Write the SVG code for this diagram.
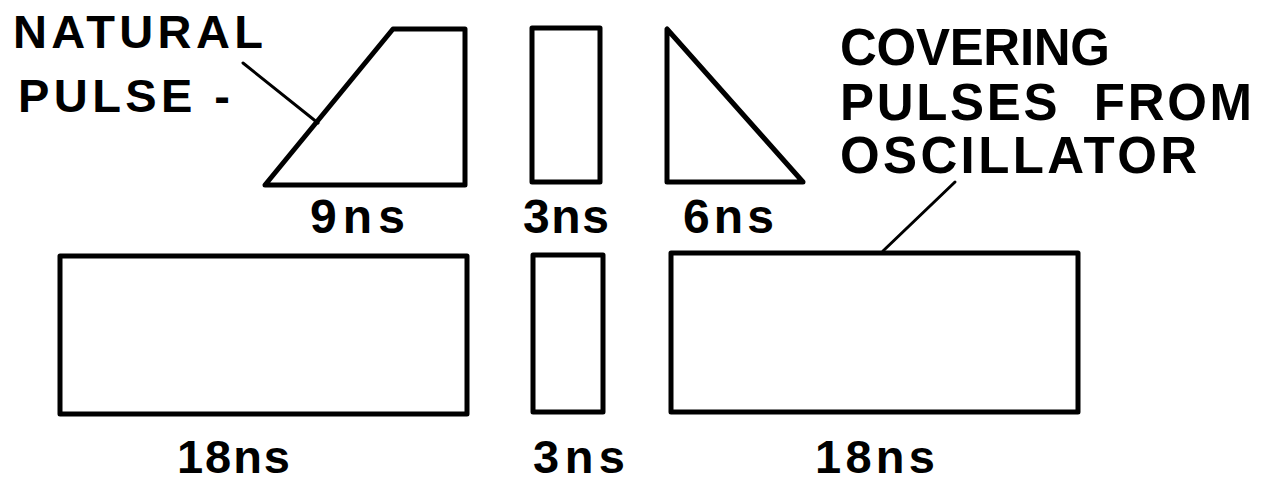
<svg xmlns="http://www.w3.org/2000/svg" width="1268" height="483" viewBox="0 0 1268 483">
<style>
.shape{fill:none;stroke:#000;stroke-width:5;stroke-linejoin:round;stroke-linecap:round}
.lead{fill:none;stroke:#000;stroke-width:3;stroke-linecap:round}
.t{font-family:"Liberation Sans",Arial,sans-serif;font-weight:bold;fill:#000}
</style>
<rect width="1268" height="483" fill="#fff"/>
<g id="natural-pulse-label">
<text class="t" x="13" y="48" font-size="47" textLength="250" lengthAdjust="spacing">NATURAL</text>
<text class="t" x="18" y="112" font-size="47" textLength="212" lengthAdjust="spacing">PULSE -</text>
</g>
<g id="covering-label">
<text class="t" x="840" y="65" font-size="51" textLength="270" lengthAdjust="spacing">COVERING</text>
<text class="t" x="840" y="120" font-size="51" textLength="412" lengthAdjust="spacing" xml:space="preserve">PULSES  FROM</text>
<text class="t" x="840" y="173" font-size="51" textLength="357" lengthAdjust="spacing">OSCILLATOR</text>
</g>
<g id="pulse-9ns">
<polygon class="shape" points="265,185 393,29 465,29 465,185"/>
<text class="t" x="310" y="233" font-size="48" textLength="95" lengthAdjust="spacing">9ns</text>
</g>
<g id="pulse-3ns-top">
<rect class="shape" x="532" y="28" width="68" height="154"/>
<text class="t" x="523" y="233" font-size="48" textLength="86" lengthAdjust="spacing">3ns</text>
</g>
<g id="pulse-6ns">
<polygon class="shape" points="667,29 667,182 803,182"/>
<text class="t" x="683" y="233" font-size="48" textLength="91" lengthAdjust="spacing">6ns</text>
</g>
<g id="pulse-18ns-left">
<rect class="shape" x="60" y="256" width="407" height="158"/>
<text class="t" x="177" y="473" font-size="47" textLength="113" lengthAdjust="spacing">18ns</text>
</g>
<g id="pulse-3ns-bottom">
<rect class="shape" x="533" y="255" width="70" height="157"/>
<text class="t" x="533" y="473" font-size="47" textLength="92" lengthAdjust="spacing">3ns</text>
</g>
<g id="pulse-18ns-right">
<rect class="shape" x="671" y="253" width="407" height="159"/>
<text class="t" x="815" y="473" font-size="47" textLength="120" lengthAdjust="spacing">18ns</text>
</g>
<g id="connectors">
<line class="lead" x1="243" y1="63" x2="318" y2="123"/>
<line class="lead" x1="955" y1="182" x2="883" y2="251"/>
</g>
</svg>
